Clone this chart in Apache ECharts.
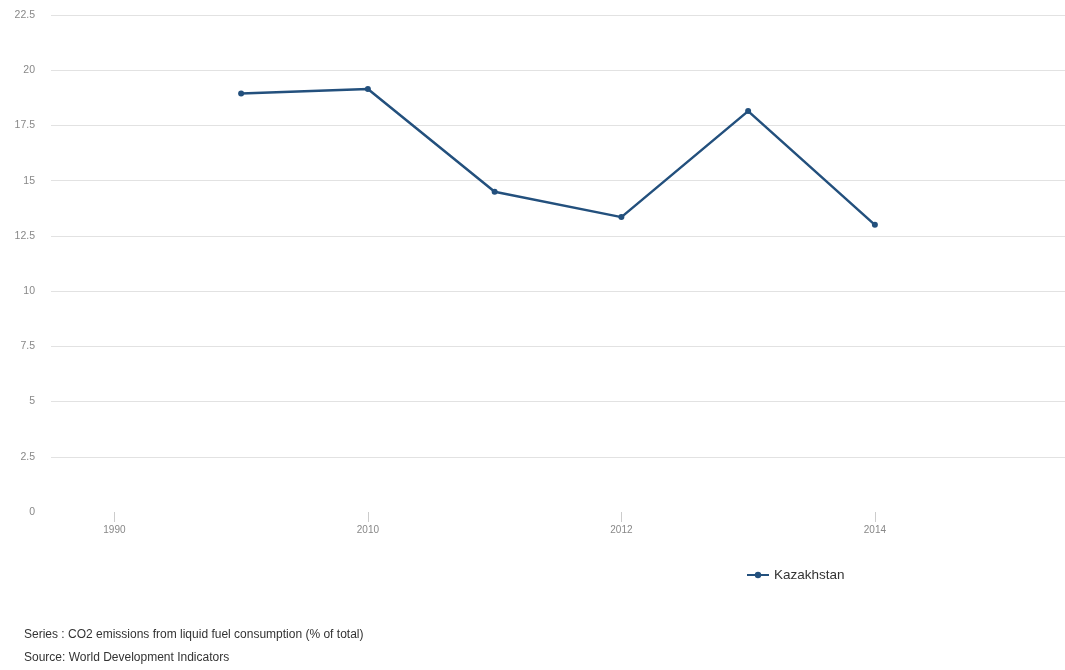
<!DOCTYPE html>
<html>
<head>
<meta charset="utf-8">
<title>Kazakhstan CO2 liquid fuel</title>
<script src="https://cdn.jsdelivr.net/npm/echarts@6/dist/echarts.min.js"></script>
<style>
  html, body { margin: 0; padding: 0; background: #fff; }
  #chart { width: 1065px; height: 670px; }
</style>
</head>
<body>
<div id="chart"></div>
<script>
// data
var years = ["1990", "2009", "2010", "2011", "2012", "2013", "2014", "2015"];
var kazakhstan = [null, 18.95, 19.15, 14.5, 13.35, 18.15, 13.0, null];
var seriesName = "Kazakhstan";
var footLines = [
  "Series : CO2 emissions from liquid fuel consumption (% of total)",
  "Source: World Development Indicators"
];

var chart = echarts.init(document.getElementById("chart"));
var font = "'Liberation Sans', Arial, sans-serif";

var option = {
  backgroundColor: "#fff",
  textStyle: { fontFamily: font },
  grid: { left: 51, width: 1018, top: 15, bottom: 158 },
  legend: {
    data: [seriesName],
    left: 741,
    top: 563,
    itemWidth: 22,
    itemHeight: 8,
    itemGap: 6,
    textStyle: { color: "#333", fontSize: 13.5, fontFamily: font }
  },
  xAxis: {
    type: "category",
    data: years,
    boundaryGap: true,
    axisLine: { show: false },
    axisTick: {
      show: true,
      alignWithLabel: true,
      interval: 1,
      length: 10,
      lineStyle: { color: "#ccc" }
    },
    axisLabel: {
      interval: 1,
      color: "#888",
      fontSize: 10,
      margin: 13,
      fontFamily: font
    },
    splitLine: { show: false }
  },
  yAxis: {
    type: "value",
    min: 0,
    max: 22.5,
    interval: 2.5,
    axisLine: { show: false },
    axisTick: { show: false },
    axisLabel: { color: "#888", fontSize: 10.5, margin: 16, fontFamily: font },
    splitLine: { showMinLine: false, lineStyle: { color: "#e2e2e2", width: 1 } }
  },
  series: [
    {
      name: seriesName,
      type: "line",
      data: kazakhstan,
      symbol: "circle",
      symbolSize: 6,
      connectNulls: false,
      lineStyle: { color: "#23507d", width: 2.5 },
      itemStyle: { color: "#23507d" }
    }
  ],
  graphic: [
    {
      type: "text",
      left: 24,
      top: 629,
      style: { text: footLines[0], fill: "#333", font: "12px " + font }
    },
    {
      type: "text",
      left: 24,
      top: 652,
      style: { text: footLines[1], fill: "#333", font: "12px " + font }
    }
  ]
};

chart.setOption(option);
</script>
</body>
</html>
